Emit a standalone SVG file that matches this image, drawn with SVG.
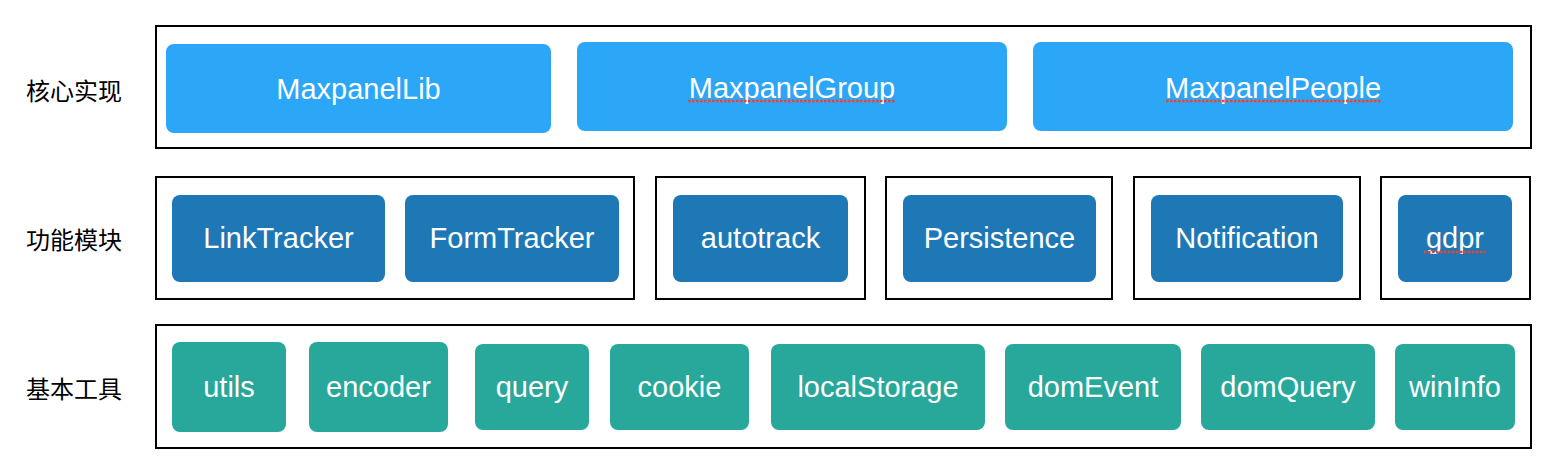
<svg xmlns="http://www.w3.org/2000/svg" width="1562" height="476" viewBox="0 0 1562 476">
<style>
.frame{fill:none;stroke:#000;stroke-width:2}
.core{fill:#2ca6f7}
.func{fill:#1e78b5}
.base{fill:#27a89b}
.t{font-family:"Liberation Sans",Arial,sans-serif;font-size:29px;fill:#fff;text-anchor:middle;dominant-baseline:central}
.lab{font-family:"Noto Sans CJK SC","Noto Sans",sans-serif;font-size:24px;fill:#000;dominant-baseline:central}
.spell{stroke:#e0463f;stroke-width:2.5;stroke-dasharray:2.5 1.5}
</style>
<rect width="1562" height="476" fill="#fff"/>
<g id="labels">
<text class="lab" x="26" y="89">核心实现</text>
<text class="lab" x="26" y="238">功能模块</text>
<text class="lab" x="26" y="387">基本工具</text>
</g>
<g id="frames">
<rect class="frame" x="156" y="26" width="1375" height="122"/>
<rect class="frame" x="156" y="177" width="478" height="122"/>
<rect class="frame" x="656" y="177" width="209" height="122"/>
<rect class="frame" x="886" y="177" width="226" height="122"/>
<rect class="frame" x="1134" y="177" width="226" height="122"/>
<rect class="frame" x="1381" y="177" width="149" height="122"/>
<rect class="frame" x="156" y="325" width="1375" height="123"/>
</g>
<g id="MaxpanelLib"><rect class="core" x="166" y="44" width="385" height="89" rx="8"/><text class="t" x="358.5" y="89">MaxpanelLib</text></g>
<g id="MaxpanelGroup"><rect class="core" x="577" y="42" width="430" height="89" rx="8"/><text class="t" x="792" y="88">MaxpanelGroup</text><line class="spell" x1="688" y1="101" x2="895" y2="101"/></g>
<g id="MaxpanelPeople"><rect class="core" x="1033" y="42" width="480" height="89" rx="8"/><text class="t" x="1273" y="88">MaxpanelPeople</text><line class="spell" x1="1166" y1="101" x2="1382" y2="101"/></g>
<g id="LinkTracker"><rect class="func" x="172" y="195" width="213" height="87" rx="8"/><text class="t" x="278.5" y="238">LinkTracker</text></g>
<g id="FormTracker"><rect class="func" x="405" y="195" width="214" height="87" rx="8"/><text class="t" x="512" y="238">FormTracker</text></g>
<g id="autotrack"><rect class="func" x="673" y="195" width="175" height="87" rx="8"/><text class="t" x="760.5" y="238">autotrack</text></g>
<g id="Persistence"><rect class="func" x="903" y="195" width="193" height="87" rx="8"/><text class="t" x="999.5" y="238">Persistence</text></g>
<g id="Notification"><rect class="func" x="1151" y="195" width="192" height="87" rx="8"/><text class="t" x="1247" y="238">Notification</text></g>
<g id="gdpr"><rect class="func" x="1398" y="195" width="114" height="87" rx="8"/><text class="t" x="1455" y="238">gdpr</text><line class="spell" x1="1424" y1="252" x2="1486" y2="252"/></g>
<g id="utils"><rect class="base" x="172" y="342" width="114" height="90" rx="8"/><text class="t" x="229" y="387">utils</text></g>
<g id="encoder"><rect class="base" x="309" y="342" width="139" height="90" rx="8"/><text class="t" x="378.5" y="387">encoder</text></g>
<g id="query"><rect class="base" x="475" y="344" width="114" height="86" rx="8"/><text class="t" x="532" y="387">query</text></g>
<g id="cookie"><rect class="base" x="610" y="344" width="139" height="86" rx="8"/><text class="t" x="679.5" y="387">cookie</text></g>
<g id="localStorage"><rect class="base" x="771" y="344" width="214" height="86" rx="8"/><text class="t" x="878" y="387">localStorage</text></g>
<g id="domEvent"><rect class="base" x="1005" y="344" width="176" height="86" rx="8"/><text class="t" x="1093" y="387">domEvent</text></g>
<g id="domQuery"><rect class="base" x="1201" y="344" width="174" height="86" rx="8"/><text class="t" x="1288" y="387">domQuery</text></g>
<g id="winInfo"><rect class="base" x="1395" y="344" width="120" height="86" rx="8"/><text class="t" x="1455" y="387">winInfo</text></g>
<g id="connectors"></g>
</svg>
